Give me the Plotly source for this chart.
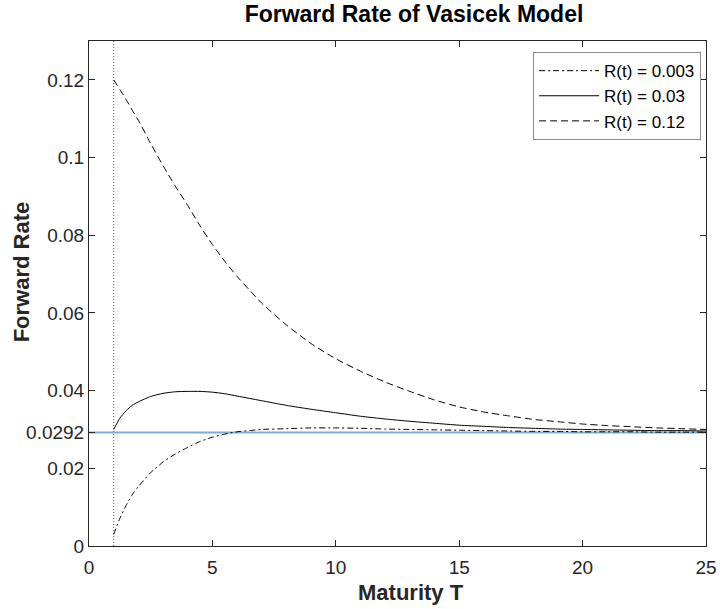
import plotly.graph_objects as go

# Maturity T
maturity = [1, 1.25, 1.5, 1.75, 2, 2.5, 3, 3.5, 4, 4.5, 5, 5.5, 6, 6.5, 7, 8, 9, 10,
            11, 12, 13, 14, 15, 16, 17, 18, 19, 20, 21, 22, 23, 24, 25]

# Forward rate, R(t) = 0.003 (dash-dot)
fwd_r0003 = [0.0030, 0.0071, 0.0104, 0.0132, 0.0153, 0.0189, 0.0216, 0.0237, 0.0254,
             0.0269, 0.0280, 0.0288, 0.0294, 0.0297, 0.0300, 0.0302, 0.0304, 0.0304,
             0.0303, 0.0301, 0.0300, 0.0299, 0.0298, 0.0297, 0.0296, 0.0295, 0.0295,
             0.0294, 0.0294, 0.0294, 0.0293, 0.0293, 0.0293]

# Forward rate, R(t) = 0.03 (solid)
fwd_r003 = [0.0300, 0.0329, 0.0348, 0.0362, 0.0371, 0.0385, 0.0393, 0.0397, 0.0398,
            0.0398, 0.0396, 0.0392, 0.0386, 0.0380, 0.0374, 0.0362, 0.0352, 0.0343,
            0.0334, 0.0327, 0.0321, 0.0316, 0.0311, 0.0308, 0.0305, 0.0303, 0.0301,
            0.0300, 0.0299, 0.0298, 0.0297, 0.0297, 0.0296]

# Forward rate, R(t) = 0.12 (dashed)
fwd_r012 = [0.1200, 0.1175, 0.1150, 0.1122, 0.1096, 0.1036, 0.0979, 0.0926, 0.0877,
            0.0824, 0.0776, 0.0733, 0.0694, 0.0659, 0.0625, 0.0569, 0.0521, 0.0482,
            0.0450, 0.0422, 0.0398, 0.0376, 0.0358, 0.0345, 0.0335, 0.0326, 0.0320,
            0.0314, 0.0310, 0.0307, 0.0304, 0.0302, 0.0300]

series_names = ["R(t) = 0.003", "R(t) = 0.03", "R(t) = 0.12"]

long_rate = 0.0292
long_x = [0, 25]
start_x = [1, 1]
start_y = [0, 0.13]

y_tickvals = [0, 0.02, 0.0292, 0.04, 0.06, 0.08, 0.1, 0.12]
y_ticktext = ["0", "0.02", "0.0292", "0.04", "0.06", "0.08", "0.1", "0.12"]
x_tickvals = [0, 5, 10, 15, 20, 25]

FONT = "Liberation Sans, Arial, Helvetica, sans-serif"
AX = "#262626"

fig = go.Figure()

# horizontal long-term level
fig.add_trace(go.Scatter(x=long_x, y=[long_rate, long_rate], mode="lines",
                         line=dict(color="#7BB0D6", width=2), showlegend=False,
                         hoverinfo="skip"))
# vertical dotted line at t
fig.add_trace(go.Scatter(x=start_x, y=start_y, mode="lines",
                         line=dict(color="#555555", width=1, dash="1px,2px"),
                         showlegend=False, hoverinfo="skip"))

fig.add_trace(go.Scatter(x=maturity, y=fwd_r0003, mode="lines", name=series_names[0],
                         line=dict(color="black", width=1, dash="6px,3px,2px,3px",
                                   shape="spline", smoothing=0.6)))
fig.add_trace(go.Scatter(x=maturity, y=fwd_r003, mode="lines", name=series_names[1],
                         line=dict(color="black", width=1, shape="spline", smoothing=0.6)))
fig.add_trace(go.Scatter(x=maturity, y=fwd_r012, mode="lines", name=series_names[2],
                         line=dict(color="black", width=1, dash="7px,4px",
                                   shape="spline", smoothing=0.6)))

axis_common = dict(showline=True, linecolor=AX, linewidth=1, mirror="ticks",
                   ticks="inside", ticklen=6, tickcolor=AX, tickwidth=1,
                   showgrid=False, zeroline=False, automargin=False,
                   tickfont=dict(family=FONT, size=19, color=AX))

fig.update_xaxes(range=[0, 25], tickvals=x_tickvals, ticklabelstandoff=4, **axis_common)
fig.update_yaxes(range=[0, 0.13], tickvals=y_tickvals, ticktext=y_ticktext, **axis_common)

fig.update_layout(
    width=720, height=609,
    margin=dict(l=89, r=14, t=41, b=63),
    paper_bgcolor="white", plot_bgcolor="white",
    title=dict(text="<b>Forward Rate of Vasicek Model</b>", x=0.575, xanchor="center",
               y=0.977, yanchor="middle", xref="container",
               font=dict(family=FONT, size=23, color="black")),
    legend=dict(x=0.992, xanchor="right", y=0.978, yanchor="top",
                bgcolor="white", bordercolor="#8a8a8a", borderwidth=1,
                font=dict(family=FONT, size=17, color="black"),
                itemwidth=60, tracegroupgap=0),
    showlegend=True,
    annotations=[
        dict(text="<b>Forward Rate</b>", textangle=-90, xref="paper", yref="paper",
             x=-0.108, y=0.5426, xanchor="center", yanchor="middle", showarrow=False,
             font=dict(family=FONT, size=22, color=AX)),
        dict(text="<b>Maturity T</b>", xref="paper", yref="paper",
             x=0.522, y=-0.093, xanchor="center", yanchor="middle", showarrow=False,
             font=dict(family=FONT, size=22, color=AX)),
    ],
)

fig.write_html("out.html")
